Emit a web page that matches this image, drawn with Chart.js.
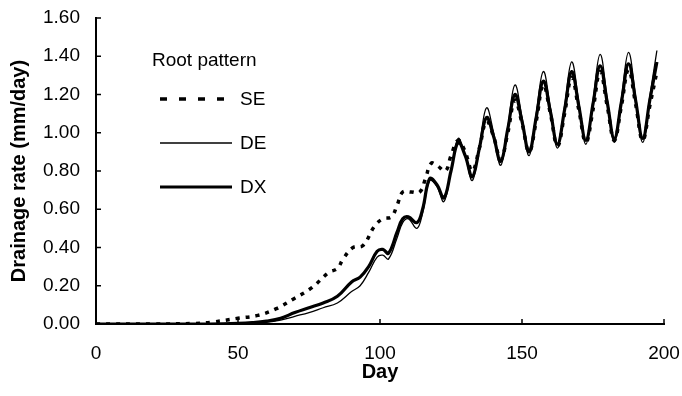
<!DOCTYPE html>
<html>
<head>
<meta charset="utf-8">
<script src="https://cdn.jsdelivr.net/npm/chart.js@4.4.0/dist/chart.umd.min.js"></script>
<style>
  html, body { margin: 0; padding: 0; background: #fff; }
</style>
</head>
<body>
<canvas id="drainage" width="682" height="396"></canvas>
<script>
// days used for the two solid curves (DE, DX)
const solidDays = [0, 20, 40, 50, 55, 60, 65, 70, 75, 80, 85, 90, 93, 96, 99, 101, 103, 106, 108, 110,
  113, 115, 117.5, 120, 122.5, 125, 127.5, 130, 132.5, 135, 137.5, 140, 142.5, 145, 147.5, 150,
  152.5, 155, 157.5, 160, 162.5, 165, 167.5, 170, 172.5, 175, 177.5, 180, 182.5, 185, 187.5, 190,
  192.5, 195, 197.5];
const deValues = [0, 0, 0, 0.002, 0.004, 0.008, 0.02, 0.04, 0.06, 0.085, 0.11, 0.17, 0.20, 0.27, 0.35,
  0.36, 0.34, 0.45, 0.53, 0.55, 0.50, 0.58, 0.75, 0.72, 0.64, 0.80, 0.97, 0.88, 0.75, 0.93,
  1.13, 1.00, 0.83, 1.03, 1.25, 1.08, 0.88, 1.10, 1.32, 1.13, 0.92, 1.14, 1.37, 1.16, 0.94,
  1.17, 1.41, 1.18, 0.95, 1.18, 1.42, 1.19, 0.95, 1.19, 1.43];
const dxValues = [0, 0, 0, 0.003, 0.007, 0.015, 0.03, 0.06, 0.085, 0.11, 0.145, 0.22, 0.245, 0.30, 0.38,
  0.39, 0.37, 0.48, 0.55, 0.56, 0.53, 0.60, 0.76, 0.73, 0.66, 0.80, 0.95, 0.88, 0.77, 0.92,
  1.08, 0.98, 0.85, 1.02, 1.20, 1.06, 0.90, 1.08, 1.27, 1.11, 0.94, 1.12, 1.32, 1.14, 0.96,
  1.15, 1.35, 1.16, 0.97, 1.16, 1.36, 1.17, 0.97, 1.17, 1.37];

// days for the dotted curve (SE)
const seDays = [0, 20, 35, 41, 50, 57, 63.5, 70, 76, 82, 85, 87, 90.5, 94, 98, 101, 104, 106, 108, 111,
  114, 116, 118, 120, 123, 125, 127.5, 130, 132.5, 135, 137.5, 140, 142.5, 145, 147.5, 150,
  152.5, 155, 157.5, 160, 162.5, 165, 167.5, 170, 172.5, 175, 177.5, 180, 182.5, 185, 187.5, 190,
  192.5, 195, 197.5];
const seValues = [0, 0, 0.003, 0.01, 0.03, 0.045, 0.08, 0.135, 0.19, 0.27, 0.29, 0.34, 0.40, 0.41, 0.51,
  0.55, 0.56, 0.62, 0.69, 0.69, 0.69, 0.76, 0.84, 0.83, 0.80, 0.88, 0.96, 0.90, 0.80, 0.92,
  1.06, 0.98, 0.86, 1.00, 1.17, 1.05, 0.90, 1.06, 1.25, 1.10, 0.93, 1.10, 1.29, 1.12, 0.95,
  1.12, 1.32, 1.14, 0.96, 1.14, 1.33, 1.15, 0.96, 1.14, 1.32];

const xTicks = [0, 50, 100, 150, 200];
const yTicks = [0, 0.2, 0.4, 0.6, 0.8, 1.0, 1.2, 1.4, 1.6];

const FONT = '"Liberation Sans", Arial, Helvetica, sans-serif';

function pairs(xs, ys) {
  return xs.map((x, i) => ({ x: x, y: ys[i] }));
}

// small ticks pointing into the plot
const innerTicks = {
  id: 'innerTicks',
  afterDatasetsDraw(chart) {
    const { ctx, chartArea, scales } = chart;
    ctx.save();
    ctx.strokeStyle = '#000';
    ctx.lineWidth = 1.5;
    xTicks.forEach(v => {
      const px = scales.x.getPixelForValue(v);
      ctx.beginPath();
      ctx.moveTo(px, chartArea.bottom);
      ctx.lineTo(px, chartArea.bottom - 5);
      ctx.stroke();
    });
    yTicks.forEach(v => {
      const py = scales.y.getPixelForValue(v);
      ctx.beginPath();
      ctx.moveTo(chartArea.left, py);
      ctx.lineTo(chartArea.left + 5, py);
      ctx.stroke();
    });
    ctx.restore();
  }
};

// legend inside the plot: "Root pattern" + three line samples
const rootLegend = {
  id: 'rootLegend',
  afterDraw(chart) {
    const ctx = chart.ctx;
    ctx.save();
    ctx.fillStyle = '#000';
    ctx.font = '19px ' + FONT;
    ctx.textBaseline = 'middle';
    ctx.fillText('Root pattern', 152, 61);
    chart.data.datasets.forEach((ds, i) => {
      const y = 99 + i * 44;
      const dotted = ds.borderDash.length > 0;
      ctx.beginPath();
      ctx.strokeStyle = '#000';
      ctx.lineWidth = ds.borderWidth;
      ctx.setLineDash(dotted ? [7, 12] : []);
      ctx.moveTo(160, y);
      ctx.lineTo(dotted ? 228 : 232, y);
      ctx.stroke();
      ctx.setLineDash([]);
      ctx.fillText(ds.label, 240, y + 1);
    });
    ctx.restore();
  }
};

new Chart(document.getElementById('drainage').getContext('2d'), {
  type: 'line',
  data: {
    datasets: [
      {
        label: 'SE',
        data: pairs(seDays, seValues),
        borderColor: '#000',
        borderWidth: 3.5,
        borderDash: [4, 6],
        pointRadius: 0,
        tension: 0.4,
        fill: false
      },
      {
        label: 'DE',
        data: pairs(solidDays, deValues),
        borderColor: '#000',
        borderWidth: 1.3,
        borderDash: [],
        pointRadius: 0,
        tension: 0.4,
        fill: false
      },
      {
        label: 'DX',
        data: pairs(solidDays, dxValues),
        borderColor: '#000',
        borderWidth: 3.2,
        borderDash: [],
        pointRadius: 0,
        tension: 0.4,
        fill: false
      }
    ]
  },
  options: {
    responsive: false,
    animation: false,
    layout: { padding: { left: 0, top: 18, right: 18, bottom: 0 } },
    plugins: {
      legend: { display: false },
      tooltip: { enabled: false }
    },
    scales: {
      x: {
        type: 'linear',
        min: 0,
        max: 200,
        afterBuildTicks: s => { s.ticks = xTicks.map(v => ({ value: v })); },
        afterFit: s => { s.height = 72; s.paddingLeft = 0; s.paddingRight = 0; },
        grid: { display: false, drawTicks: false },
        border: { display: true, color: '#000', width: 2 },
        ticks: { color: '#000', padding: 18, font: { family: FONT, size: 19 } },
        title: { display: true, text: 'Day', color: '#000', padding: { top: 0, bottom: 12 },
          font: { family: FONT, size: 20, weight: 'bold' } }
      },
      y: {
        min: 0,
        max: 1.6,
        afterBuildTicks: s => { s.ticks = yTicks.map(v => ({ value: v })); },
        afterFit: s => { s.width = 96; s.paddingTop = 0; s.paddingBottom = 0; },
        grid: { display: false, drawTicks: false },
        border: { display: true, color: '#000', width: 2 },
        ticks: { color: '#000', padding: 16, font: { family: FONT, size: 19 },
          callback: v => v.toFixed(2) },
        title: { display: true, text: 'Drainage rate (mm/day)', color: '#000', padding: { top: 7 },
          font: { family: FONT, size: 20, weight: 'bold' } }
      }
    }
  },
  plugins: [innerTicks, rootLegend]
});
</script>
</body>
</html>
